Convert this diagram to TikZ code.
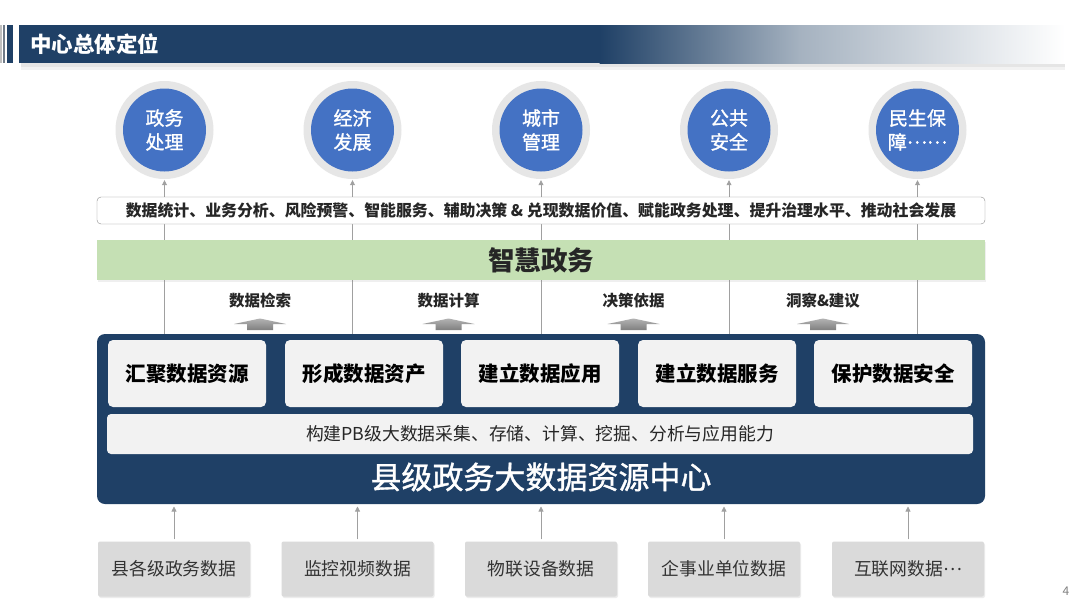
\documentclass[tikz,border=0pt]{standalone}
\usepackage{fontspec}
\setmainfont{Noto Sans CJK SC}
\newfontfamily\medcjk{Noto Sans CJK SC}[FakeBold=1.2]
\usetikzlibrary{arrows.meta,shadows}
\definecolor{navy}{HTML}{1F4066}
\definecolor{cblue}{HTML}{4472C4}
\definecolor{ringc}{HTML}{E6E6E6}
\definecolor{lgreen}{HTML}{C5E0B4}
\definecolor{ibox}{HTML}{F2F2F2}
\definecolor{gbox}{HTML}{DADADA}
\definecolor{lline}{HTML}{A0A0A0}
\definecolor{fadec}{HTML}{A5B2C0}
\newcommand{\midell}[1]{\raisebox{0.3em}{#1}}
\tikzset{
  ringnode/.style={circle, fill=ringc, minimum size=98pt, inner sep=0pt},
  bluenode/.style={circle, fill=cblue, minimum size=83pt, inner sep=0pt, text=white, align=center, font=\medcjk\fontsize{19}{24}\selectfont},
  vline/.style={draw=lline, line width=0.8pt},
  upar/.style={draw=lline, line width=0.8pt, -{Triangle[width=5pt,length=5pt]}},
  innerbox/.style={rounded corners=5pt, fill=ibox, minimum width=158pt, minimum height=67pt, inner sep=0pt, font=\fontsize{20.5}{22}\selectfont\bfseries},
  srcbox/.style={rounded corners=2pt, fill=gbox, minimum width=152pt, minimum height=55pt, inner sep=0pt, text=black!80, font=\fontsize{17.8}{20}\selectfont, drop shadow={opacity=0.15, shadow xshift=1pt, shadow yshift=-1.5pt}},
  lbl/.style={font=\fontsize{15.5}{18}\selectfont\bfseries, text=black!85},
}
\begin{document}
\begin{tikzpicture}[x=1pt,y=-1pt]
\useasboundingbox (0,0) rectangle (1080,608);
\fill[white] (0,0) rectangle (1080,608);
% title bar
\fill[black!10] (21,63) rectangle (1065,67);
\fill[black!5] (21,67) rectangle (1065,70);
\fill[black!25] (0,25) rectangle (2,63);
\fill[black!45!navy!60] (3,25) rectangle (5,63);
\fill[navy] (7,25) rectangle (13,63);
\fill[navy] (19,25) rectangle (600,63);
\shade[left color=navy, right color=fadec] (599.5,25) rectangle (800,63);
\shade[left color=fadec, right color=white] (799.5,25) rectangle (1065,63);
\node[anchor=west, text=white, font=\fontsize{21.5}{24}\selectfont\bfseries, inner sep=0pt] (title) at (30,44) {中心总体定位};
% circles
\foreach \i/\x/\t in {1/164.5/{政务\\处理},2/352.5/{经济\\发展},3/541/{城市\\管理},4/729/{公共\\安全},5/917.5/{民生保\\障\midell{……}}}{
  \node[ringnode] (r\i) at (\x,130) {};
  \node[bluenode] (c\i) at (\x,130) {\t};
  \coordinate (t\i) at (\x,334);
}
% vertical lines behind bands
\foreach \i in {1,...,5}{
  \draw[upar, shorten >=1pt] (t\i) -- (r\i.south);
}
% text box
\node[draw=black!45, fill=white, rounded corners=4pt, minimum width=888pt, minimum height=27pt, inner sep=0pt, font=\fontsize{15.9}{18}\selectfont\bfseries, text=black!85] (tb) at (541,210.5) {数据统计、业务分析、风险预警、智能服务、辅助决策 \& 兑现数据价值、赋能政务处理、提升治理水平、推动社会发展};
% green band
\node[fill=lgreen, minimum width=888pt, minimum height=40pt, inner sep=0pt, font=\fontsize{26.5}{28}\selectfont\bfseries, text=black!85, drop shadow={opacity=0.12, shadow xshift=1pt, shadow yshift=-1.5pt}] (gz) at (541,260) {智慧政务};
% labels and block arrows
\foreach \i/\x/\t in {1/260/数据检索,2/448.5/数据计算,3/633.5/决策依据,4/823/洞察\&建议}{
  \node[lbl] (l\i) at (\x,301) {\t};
  \shade[top color=black!30, bottom color=black!50] (\x-26,324) -- (\x,318.5) -- (\x+26,324) -- (\x+13,324) -- (\x+13,330) -- (\x-13,330) -- (\x-13,324) -- cycle;
}
% main box
\node[fill=navy, rounded corners=8pt, minimum width=888pt, minimum height=170pt, inner sep=0pt] (mb) at (541,419) {};
\foreach \i/\x/\t in {1/187/汇聚数据资源,2/364/形成数据资产,3/540/建立数据应用,4/717/建立数据服务,5/893/保护数据安全}{
  \node[innerbox] (ib\i) at (\x,373.5) {\t};
}
\node[rounded corners=4pt, fill=ibox, minimum width=866pt, minimum height=40pt, inner sep=0pt, font=\fontsize{17.8}{20}\selectfont, text=black!85] (lb) at (540,434) {构建PB级大数据采集、存储、计算、挖掘、分析与应用能力};
\node[text=white, font=\medcjk\fontsize{31}{33}\selectfont, inner sep=0pt] (big) at (541,477) {县级政务大数据资源中心};
% source boxes
\foreach \i/\x/\t in {1/174/县各级政务数据,2/357.5/监控视频数据,3/541/物联设备数据,4/724/企事业单位数据,5/908/互联网数据\midell{…}}{
  \node[srcbox] (s\i) at (\x,569) {\t};
  \coordinate (b\i) at (\x,504);
  \draw[upar, shorten >=2.5pt, shorten <=2pt] (s\i.north) -- (b\i);
}
\node[text=black!50, font=\fontsize{12}{14}\selectfont, inner sep=0pt] (pg) at (1066,591) {4};
\end{tikzpicture}
\end{document}
